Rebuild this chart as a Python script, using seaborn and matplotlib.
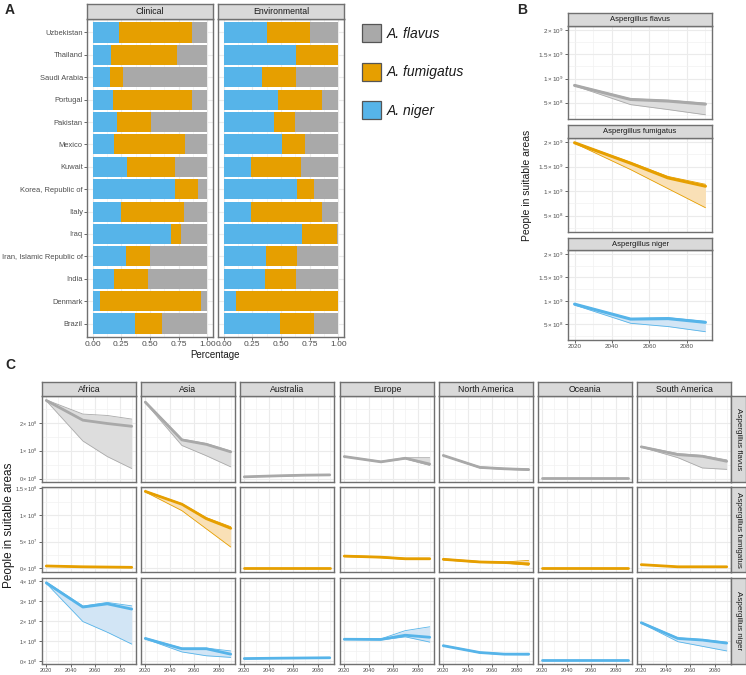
import numpy as np
import pandas as pd
import matplotlib
matplotlib.use("Agg")
import matplotlib.pyplot as plt
from matplotlib.patches import Rectangle
import seaborn as sns

# ---------------- data ----------------
countries = ["Uzbekistan", "Thailand", "Saudi Arabia", "Portugal", "Pakistan", "Mexico",
             "Kuwait", "Korea, Republic of", "Italy", "Iraq", "Iran, Islamic Republic of",
             "India", "Denmark", "Brazil"]
clin_niger = [0.228, 0.159, 0.153, 0.179, 0.211, 0.188, 0.303, 0.717, 0.251, 0.679, 0.292, 0.185, 0.061, 0.373]
clin_fumig = [0.636, 0.581, 0.113, 0.691, 0.295, 0.618, 0.411, 0.199, 0.550, 0.096, 0.205, 0.295, 0.887, 0.228]
clin_flavus = [0.136, 0.260, 0.734, 0.130, 0.494, 0.194, 0.286, 0.084, 0.199, 0.225, 0.503, 0.520, 0.052, 0.399]
env_niger = [0.375, 0.628, 0.334, 0.477, 0.442, 0.509, 0.238, 0.642, 0.235, 0.683, 0.369, 0.358, 0.108, 0.494]
env_fumig = [0.378, 0.372, 0.297, 0.383, 0.177, 0.197, 0.434, 0.146, 0.623, 0.308, 0.268, 0.273, 0.886, 0.297]
env_flavus = [0.247, 0.000, 0.369, 0.140, 0.381, 0.294, 0.328, 0.212, 0.142, 0.009, 0.363, 0.369, 0.006, 0.209]

years = [2020, 2050, 2070, 2090]

# Panel B (global totals, people)
glob_flavus_main = [0.858e9, 0.567e9, 0.534e9, 0.470e9]
glob_flavus_low = [0.850e9, 0.460e9, 0.358e9, 0.250e9]
glob_flavus_high = [0.870e9, 0.580e9, 0.550e9, 0.490e9]
glob_fumig_main = [1.99e9, 1.57e9, 1.27e9, 1.10e9]
glob_fumig_low = [1.98e9, 1.44e9, 1.05e9, 0.66e9]
glob_fumig_high = [2.00e9, 1.59e9, 1.30e9, 1.14e9]
glob_niger_main = [0.93e9, 0.61e9, 0.62e9, 0.54e9]
glob_niger_low = [0.91e9, 0.52e9, 0.45e9, 0.34e9]
glob_niger_high = [0.94e9, 0.62e9, 0.64e9, 0.56e9]

continents = ["Africa", "Asia", "Australia", "Europe", "North America", "Oceania", "South America"]
# Panel C values in units of 1e8 people
flavus_main = {"Africa": [2.81, 2.10, 1.98, 1.88], "Asia": [2.75, 1.39, 1.23, 0.96],
               "Australia": [0.06, 0.10, 0.12, 0.13], "Europe": [0.79, 0.60, 0.73, 0.52],
               "North America": [0.83, 0.40, 0.35, 0.32], "Oceania": [0.02, 0.02, 0.02, 0.02],
               "South America": [1.14, 0.86, 0.80, 0.62]}
flavus_low = {"Africa": [2.80, 1.35, 0.79, 0.36], "Asia": [2.73, 1.19, 0.82, 0.42],
              "Australia": [0.06, 0.09, 0.11, 0.12], "Europe": [0.78, 0.59, 0.71, 0.47],
              "North America": [0.82, 0.38, 0.33, 0.30], "Oceania": [0.015, 0.015, 0.015, 0.015],
              "South America": [1.13, 0.75, 0.38, 0.33]}
flavus_high = {"Africa": [2.83, 2.32, 2.27, 2.14], "Asia": [2.78, 1.42, 1.26, 0.99],
               "Australia": [0.07, 0.11, 0.13, 0.14], "Europe": [0.80, 0.62, 0.75, 0.75],
               "North America": [0.84, 0.42, 0.37, 0.35], "Oceania": [0.025, 0.025, 0.025, 0.025],
               "South America": [1.16, 0.90, 0.83, 0.67]}
fumig_main = {"Africa": [0.045, 0.030, 0.025, 0.020], "Asia": [1.44, 1.20, 0.93, 0.75],
              "Australia": [0.010, 0.010, 0.010, 0.010], "Europe": [0.23, 0.21, 0.18, 0.18],
              "North America": [0.17, 0.12, 0.11, 0.085], "Oceania": [0.006, 0.006, 0.006, 0.006],
              "South America": [0.07, 0.03, 0.03, 0.03]}
fumig_low = {"Africa": [0.040, 0.025, 0.020, 0.015], "Asia": [1.43, 1.08, 0.74, 0.40],
             "Australia": [0.008, 0.008, 0.008, 0.008], "Europe": [0.22, 0.20, 0.17, 0.17],
             "North America": [0.16, 0.11, 0.10, 0.06], "Oceania": [0.005, 0.005, 0.005, 0.005],
             "South America": [0.065, 0.028, 0.028, 0.028]}
fumig_high = {"Africa": [0.050, 0.035, 0.030, 0.025], "Asia": [1.45, 1.21, 0.95, 0.78],
              "Australia": [0.012, 0.012, 0.012, 0.012], "Europe": [0.24, 0.22, 0.19, 0.19],
              "North America": [0.18, 0.13, 0.12, 0.15], "Oceania": [0.007, 0.007, 0.007, 0.007],
              "South America": [0.075, 0.035, 0.035, 0.035]}
niger_main = {"Africa": [3.90, 2.70, 2.86, 2.60], "Asia": [1.14, 0.63, 0.63, 0.36],
              "Australia": [0.14, 0.16, 0.17, 0.18], "Europe": [1.10, 1.09, 1.30, 1.20],
              "North America": [0.78, 0.44, 0.36, 0.36], "Oceania": [0.07, 0.07, 0.07, 0.07],
              "South America": [1.92, 1.14, 1.06, 0.91]}
niger_low = {"Africa": [3.88, 1.98, 1.45, 0.86], "Asia": [1.12, 0.47, 0.28, 0.20],
             "Australia": [0.13, 0.15, 0.16, 0.17], "Europe": [1.09, 1.07, 1.22, 0.96],
             "North America": [0.77, 0.42, 0.34, 0.33], "Oceania": [0.065, 0.065, 0.065, 0.065],
             "South America": [1.90, 0.98, 0.75, 0.52]}
niger_high = {"Africa": [3.95, 2.75, 2.93, 2.76], "Asia": [1.17, 0.66, 0.66, 0.52],
              "Australia": [0.15, 0.17, 0.18, 0.19], "Europe": [1.12, 1.12, 1.53, 1.72],
              "North America": [0.80, 0.46, 0.38, 0.40], "Oceania": [0.075, 0.075, 0.075, 0.075],
              "South America": [1.95, 1.17, 1.09, 0.95]}
C_UNIT = 1e8

species_labels = ["A. flavus", "A. fumigatus", "A. niger"]
species_full = ["Aspergillus flavus", "Aspergillus fumigatus", "Aspergillus niger"]

# ---------------- style ----------------
sns.set_theme(style="white")
plt.rcParams['font.family'] = ['Liberation Sans', 'DejaVu Sans']
plt.rcParams['mathtext.fontset'] = 'custom'
plt.rcParams['mathtext.rm'] = 'Liberation Sans'
plt.rcParams['mathtext.it'] = 'Liberation Sans:italic'

COL_GRAY = '#a9a9a9'
COL_ORANGE = '#E69F00'
COL_BLUE = '#56B4E9'
FILL_GRAY = '#dddddd'
FILL_ORANGE = '#f9e0b6'
FILL_BLUE = '#d2e5f5'
GRID = '#ebebeb'
BORDER = '#707070'
TICKC = '#4d4d4d'

W, H = 746, 675
fig = plt.figure(figsize=(W / 100, H / 100), dpi=100)


def add_ax(x0, y0, x1, y1):
    return fig.add_axes([x0 / W, 1 - y1 / H, (x1 - x0) / W, (y1 - y0) / H])


def style_panel(ax, fs=4.5):
    ax.set_facecolor('white')
    for s in ax.spines.values():
        s.set_visible(True)
        s.set_color(BORDER)
        s.set_linewidth(1.0)
    ax.tick_params(axis='both', which='major', colors=TICKC, length=2, width=0.6,
                   labelsize=fs, pad=1.2, bottom=True, left=True)
    ax.tick_params(axis='both', which='minor', length=0)
    ax.grid(True, which='major', color=GRID, lw=0.8)
    ax.grid(True, which='minor', color='#f2f2f2', lw=0.5)
    ax.set_axisbelow(True)
    ax.set_xlabel('')
    ax.set_ylabel('')


def strip(x0, y0, x1, y1, text, fs, rot=0):
    sa = add_ax(x0, y0, x1, y1)
    sa.set_facecolor('#d9d9d9')
    sa.set_xticks([])
    sa.set_yticks([])
    for s in sa.spines.values():
        s.set_visible(True)
        s.set_color(BORDER)
        s.set_linewidth(1.0)
    sa.text(0.5, 0.5, text, ha='center', va='center', fontsize=fs, color='#1a1a1a',
            rotation=rot, transform=sa.transAxes)


def sci_label(v):
    if v == 0:
        return r"$0\times10^{0}$"
    e = int(np.floor(np.log10(v) + 1e-9))
    m = v / 10 ** e
    ms = ("%g" % round(m, 2))
    return r"$%s\times10^{%d}$" % (ms, e)


# ---------------- Panel A ----------------
fig.text(5 / W, 1 - 10 / H, "A", fontsize=10, fontweight='bold', va='center', ha='left')
for (x0, x1, title, nig, fum, fla, show_y) in [
        (87, 213, "Clinical", clin_niger, clin_fumig, clin_flavus, True),
        (218, 344, "Environmental", env_niger, env_fumig, env_flavus, False)]:
    ax = add_ax(x0, 19, x1, 337)
    df = pd.DataFrame({'country': countries, 'niger': nig, 'fum': fum, 'flav': fla})
    df['c_fum'] = df['niger'] + df['fum']
    df['c_all'] = df['c_fum'] + df['flav']
    for col, c in [('c_all', COL_GRAY), ('c_fum', COL_ORANGE), ('niger', COL_BLUE)]:
        sns.barplot(data=df, x=col, y='country', order=countries, orient='h', color=c,
                    saturation=1, width=0.9, errorbar=None, linewidth=0, ax=ax)
    style_panel(ax, fs=6.0)
    ax.set_xlim(-0.05, 1.05)
    ax.set_ylim(len(countries) - 0.4, -0.6)
    ax.set_xticks([0, 0.25, 0.5, 0.75, 1.0])
    ax.set_xticklabels(["0.00", "0.25", "0.50", "0.75", "1.00"])
    ax.set_xticks([0.125, 0.375, 0.625, 0.875], minor=True)
    ax.tick_params(axis='x', labelsize=6.0)
    if not show_y:
        ax.tick_params(axis='y', left=False, labelleft=False)
    else:
        ax.tick_params(axis='y', labelsize=5.4, colors=TICKC, pad=1.0)
    strip(x0, 4, x1, 19, title, 6.3)

fig.text(215 / W, 1 - 355 / H, "Percentage", fontsize=7, ha='center', va='center', color='#1a1a1a')

# legend
for i, (lab, c) in enumerate(zip(species_labels, [COL_GRAY, COL_ORANGE, COL_BLUE])):
    ytop = 24 + i * 38.5
    fig.add_artist(Rectangle((362 / W, 1 - (ytop + 18) / H), 19 / W, 18 / H, transform=fig.transFigure,
                             facecolor=c, edgecolor='#555555', lw=0.9))
    fig.text(387 / W, 1 - (ytop + 9.5) / H, lab, fontsize=10, style='italic', va='center', ha='left',
             color='#1a1a1a')


# ---------------- Panel B ----------------
def draw_series(ax, main, low, high, color, fill, lw_main):
    df = pd.DataFrame({'year': years, 'main': main, 'low': low, 'high': high})
    lo = df[['main', 'low', 'high']].min(axis=1)
    hi = df[['main', 'low', 'high']].max(axis=1)
    ax.fill_between(df['year'], lo, hi, color=fill, lw=0, zorder=2)
    sns.lineplot(data=df, x='year', y='low', color=color, lw=0.6, ax=ax, zorder=3)
    sns.lineplot(data=df, x='year', y='high', color=color, lw=0.6, ax=ax, zorder=3)
    sns.lineplot(data=df, x='year', y='main', color=color, lw=lw_main, ax=ax, zorder=4)


fig.text(517 / W, 1 - 10 / H, "B", fontsize=10, fontweight='bold', va='center', ha='left')
B_rows = [
    (13, 26, 119, glob_flavus_main, glob_flavus_low, glob_flavus_high, COL_GRAY, FILL_GRAY),
    (125, 138, 232, glob_fumig_main, glob_fumig_low, glob_fumig_high, COL_ORANGE, FILL_ORANGE),
    (238, 250, 340, glob_niger_main, glob_niger_low, glob_niger_high, COL_BLUE, FILL_BLUE),
]
all_b = np.concatenate([np.r_[r[3], r[4], r[5]] for r in B_rows])
bmin, bmax = all_b.min(), all_b.max()
bpad = 0.05 * (bmax - bmin)
for i, (ys, yt, yb, m, lo, hi, c, f) in enumerate(B_rows):
    ax = add_ax(568, yt, 712, yb)
    draw_series(ax, m, lo, hi, c, f, 2.2)
    style_panel(ax, fs=4.5)
    ax.set_xlim(2020 - 3.5, 2090 + 3.5)
    ax.set_ylim(bmin - bpad, bmax + bpad)
    ax.set_xticks([2020, 2040, 2060, 2080])
    ax.set_xticks([2030, 2050, 2070, 2090], minor=True)
    yt_major = [5e8, 1e9, 1.5e9, 2e9]
    ax.set_yticks(yt_major)
    ax.set_yticklabels([sci_label(v) for v in yt_major])
    ax.set_yticks([2.5e8, 7.5e8, 1.25e9, 1.75e9], minor=True)
    if i < 2:
        ax.tick_params(axis='x', labelbottom=False, bottom=False)
    strip(568, ys, 712, yt, species_full[i], 5.5)

fig.text(527 / W, 1 - 185 / H, "People in suitable areas", fontsize=7.5, rotation=90,
         ha='center', va='center', color='#1a1a1a')

# ---------------- Panel C ----------------
fig.text(5 / W, 1 - 365 / H, "C", fontsize=10, fontweight='bold', va='center', ha='left')
col_left = [42, 141, 240, 340, 439, 538, 637]
col_w = 94
row_spec = [
    (396, 482, flavus_main, flavus_low, flavus_high, COL_GRAY, FILL_GRAY, [0, 1e8, 2e8], [0.5e8, 1.5e8, 2.5e8]),
    (487, 572, fumig_main, fumig_low, fumig_high, COL_ORANGE, FILL_ORANGE, [0, 0.5e8, 1e8, 1.5e8], [0.25e8, 0.75e8, 1.25e8]),
    (578, 664, niger_main, niger_low, niger_high, COL_BLUE, FILL_BLUE, [0, 1e8, 2e8, 3e8, 4e8], [0.5e8, 1.5e8, 2.5e8, 3.5e8]),
]
for r, (yt, yb, dm, dl, dh, c, f, yticks, yminor) in enumerate(row_spec):
    vals = np.concatenate([np.r_[dm[k], dl[k], dh[k]] for k in continents]) * C_UNIT
    vmin, vmax = vals.min(), vals.max()
    pad = 0.05 * (vmax - vmin)
    for j, cont in enumerate(continents):
        x0 = col_left[j]
        ax = add_ax(x0, yt, x0 + col_w, yb)
        draw_series(ax, np.array(dm[cont]) * C_UNIT, np.array(dl[cont]) * C_UNIT,
                    np.array(dh[cont]) * C_UNIT, c, f, 2.0)
        style_panel(ax, fs=4.0)
        ax.set_xlim(2020 - 3.5, 2090 + 3.5)
        ax.set_ylim(vmin - pad, vmax + pad)
        ax.set_xticks([2020, 2040, 2060, 2080])
        ax.set_xticks([2030, 2050, 2070, 2090], minor=True)
        ax.set_yticks(yticks)
        ax.set_yticks(yminor, minor=True)
        ax.tick_params(axis='x', pad=0.8)
        if j == 0:
            ax.set_yticklabels([sci_label(v) for v in yticks])
        else:
            ax.tick_params(axis='y', left=False, labelleft=False)
        if r < 2:
            ax.tick_params(axis='x', bottom=False, labelbottom=False)
        if r == 0:
            strip(x0, 382, x0 + col_w, 396, cont, 6.3)
    strip(731, yt, 746, yb, species_full[r], 5.8, rot=-90)

fig.text(9 / W, 1 - 525 / H, "People in suitable areas", fontsize=8.5, rotation=90,
         ha='center', va='center', color='#1a1a1a')

fig.savefig("out.png", dpi=100)
